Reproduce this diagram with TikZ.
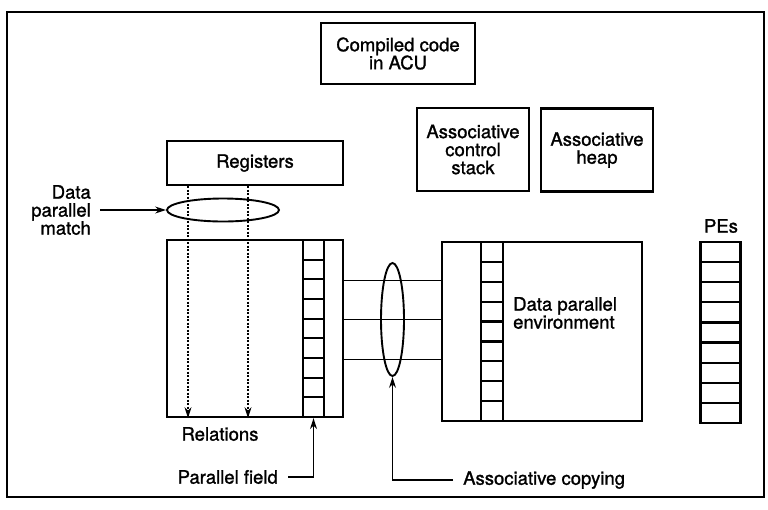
\documentclass[tikz,border=0pt]{standalone}
\usepackage{fontspec}
\setmainfont{TeX Gyre Heros}
\newfontfamily\figfont{TeX Gyre Heros}[FakeBold=1.3]
\usepackage{tikz}
\usetikzlibrary{shapes.geometric,arrows.meta}

\begin{document}
\begin{tikzpicture}[x=1pt, y=-1pt,
  every node/.style={font=\figfont\fontsize{18.5}{18}\selectfont, align=center, inner sep=0pt},
  unit/.style={draw, line width=2.2pt},
  cell/.style={draw, line width=2.2pt, inner sep=0pt},
  link/.style={line width=1.1pt},
  tag/.style={line width=1.2pt, -{Stealth[length=11pt,width=7pt]}},
  probe/.style={line width=1.2pt, dash pattern=on 2pt off 1.5pt, -{Stealth[length=11pt,width=7pt]}},
  ring/.style={ellipse, draw, line width=1.9pt}]
  \useasboundingbox (0,0) rectangle (768,509);
  \draw[line width=1.8pt] (7,12) rectangle (764,497);

  % ACU side
  \node[unit, minimum width=154pt, minimum height=61pt] (code) at (398,53.5) {Compiled code\\in ACU};
  \node[unit, minimum width=176pt, minimum height=44pt] (regs) at (255,163) {Registers};
  \node[unit, minimum width=112pt, minimum height=83pt] (stack) at (473,149.5) {Associative\\control\\stack};
  \node[unit, minimum width=112pt, minimum height=83pt] (heap) at (597,150) {Associative\\heap};

  % Relations with the parallel field
  \node[unit, minimum width=176pt, minimum height=177pt] (rel) at (255,328.5) {};
  \foreach \i in {1,...,9}
    \node[cell, minimum width=21pt, minimum height=19.67pt] (f\i) at (313.5,{240+19.67*(\i-0.5)}) {};
  \node (relname) at (220,434) {Relations};

  % Data parallel environment
  \node[unit, minimum width=200pt, minimum height=179pt] (env) at (542,331.5) {};
  \foreach \i in {1,...,9}
    \node[cell, minimum width=22pt, minimum height=19.89pt] (e\i) at (492,{242+19.89*(\i-0.5)}) {};
  \node[anchor=west, align=left] (envname) at (513,313) {Data parallel\\environment};

  % PEs
  \node (pename) at (721,226) {PEs};
  \foreach \i in {1,...,9}
    \node[cell, minimum width=40pt, minimum height=20.1pt] (p\i) at (720.5,{242+20.1*(\i-0.5)}) {};

  % matching
  \node[ring, minimum width=112pt, minimum height=23pt] (match) at (223,210) {};
  \node[anchor=east, align=right] (matchlbl) at (91,210) {Data\\parallel\\match};
  \draw[tag] ([xshift=9pt]matchlbl.east) -- (match.west);
  \coordinate (d1) at (188,0);
  \coordinate (d2) at (248,0);
  \draw[probe] (regs.south -| d1) -- (rel.south -| d1);
  \draw[probe] (regs.south -| d2) -- (rel.south -| d2);

  % copying
  \foreach \i in {2,4,6}
    \draw[link] (f\i.south -| rel.east) -- (f\i.south -| env.west);
  \node[ring, minimum width=23pt, minimum height=113pt] (copy) at (392.5,319.5) {};
  \node[anchor=west] (copylbl) at (463,480) {Associative copying};
  \draw[tag] ([xshift=-10pt]copylbl.west) -| (copy.south);
  \node[anchor=east] (fieldlbl) at (278,477) {Parallel field};
  \draw[tag] ([xshift=10pt]fieldlbl.east) -| (f9.south);
\end{tikzpicture}
\end{document}
